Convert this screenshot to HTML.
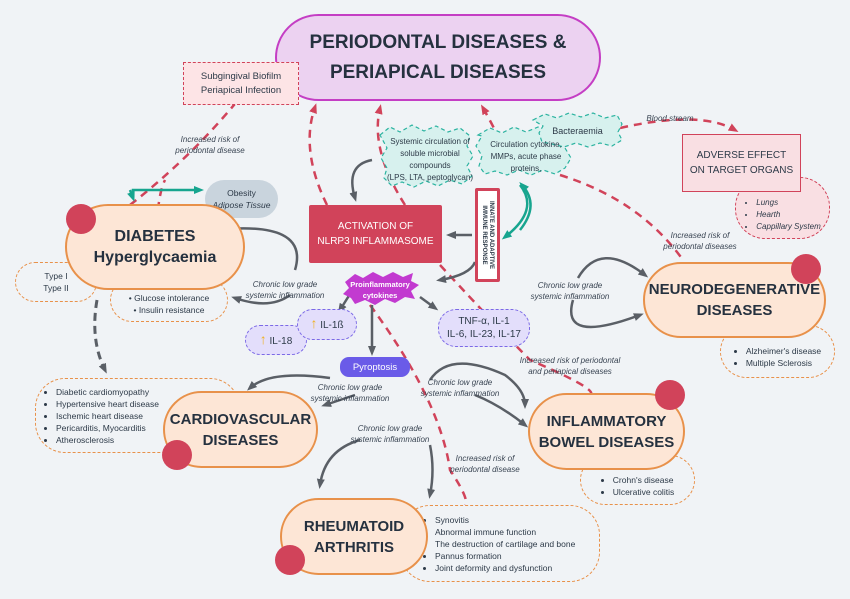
<!DOCTYPE html>
<html><head><meta charset="utf-8"><style>
body{margin:0;width:850px;height:599px;background:#f0f3f6;position:relative;overflow:hidden;font-family:"Liberation Sans",sans-serif;color:#2d3a48}
.a{position:absolute;box-sizing:border-box;display:flex;align-items:center;justify-content:center;text-align:center}
.pill{background:#fde6d6;border:2px solid #e8914a;border-radius:45px;font-weight:bold;font-size:15px;line-height:21px;color:#25313f;white-space:nowrap}
.dash{border:1.5px dashed #e8914a;border-radius:30px;font-size:8.5px;line-height:12px}
.dot{position:absolute;width:30px;height:30px;border-radius:50%;background:#d1435a}
.lav{background:#e3defb;border:1.5px dashed #7b69e6;border-radius:18px;font-size:10px;line-height:13px}
.t{position:absolute;font-size:8px;line-height:11px;font-style:italic;text-align:center;color:#3a4553}
ul{margin:0;padding-left:12px;text-align:left}
</style></head><body>
<svg width="850" height="599" style="position:absolute;left:0;top:0">
<defs>
<marker id="r" markerUnits="userSpaceOnUse" markerWidth="10" markerHeight="10" refX="6" refY="5" orient="auto"><path d="M0,1L10,5L0,9z" fill="#d1435a"/></marker>
<marker id="g" markerUnits="userSpaceOnUse" markerWidth="10" markerHeight="10" refX="6" refY="5" orient="auto"><path d="M0,1L10,5L0,9z" fill="#5a5f66"/></marker>
<marker id="c" markerUnits="userSpaceOnUse" markerWidth="10" markerHeight="10" refX="6" refY="5" orient="auto"><path d="M0,1L10,5L0,9z" fill="#17a58f"/></marker>
</defs>
<g fill="none" stroke="#d1435a" stroke-width="2.5" stroke-dasharray="8,6">
<path d="M130,205 Q200,150 250,85" marker-end="url(#r)"/>
<path d="M327,205 Q300,150 315,107" marker-end="url(#r)"/>
<path d="M405,205 Q370,150 380,108" marker-end="url(#r)"/>
<path d="M500,140 Q490,120 483,108" marker-end="url(#r)"/>
<path d="M560,175 Q640,200 683,260"/>
<path d="M440,265 Q500,330 530,360 Q600,390 590,395"/>
<path d="M370,305 Q440,400 450,470 Q470,500 465,505"/>
<path d="M158,210 Q160,190 165,180"/>
<path d="M620,128 Q700,110 735,130" marker-end="url(#r)"/>
</g>
<g fill="none" stroke="#5a5f66" stroke-width="2.5">
<path d="M372,160 Q345,165 355,198" marker-end="url(#g)"/>
<path d="M472,235 L450,235" marker-end="url(#g)"/>
<path d="M295,270 Q310,220 215,230" marker-end="url(#g)"/>
<path d="M290,295 Q270,310 235,298" marker-end="url(#g)"/>
<path d="M360,278 L340,310" marker-end="url(#g)"/>
<path d="M372,305 L372,352" marker-end="url(#g)"/>
<path d="M420,297 L435,308" marker-end="url(#g)"/>
<path d="M475,262 Q470,275 440,280" marker-end="url(#g)"/>
<path d="M330,378 Q270,370 250,388" marker-end="url(#g)"/>
<path d="M355,395 L325,405" marker-end="url(#g)"/>
<path d="M578,278 Q600,240 645,275" marker-end="url(#g)"/>
<path d="M573,300 Q560,345 640,315" marker-end="url(#g)"/>
<path d="M430,380 Q450,350 505,375 Q525,390 525,405" marker-end="url(#g)"/>
<path d="M475,395 Q500,405 525,425" marker-end="url(#g)"/>
<path d="M360,440 Q325,450 320,485" marker-end="url(#g)"/>
<path d="M430,445 Q435,470 430,495" marker-end="url(#g)"/>
</g>
<path d="M97,300 Q90,340 105,370" fill="none" stroke="#5a5f66" stroke-width="3" stroke-dasharray="8,5" marker-end="url(#g)"/>
<g fill="none" stroke="#17a58f" stroke-width="2.5">
<path d="M133,196 L133,190 L200,190" marker-end="url(#c)"/>
<path d="M130,190 L133,198" marker-end="url(#c)"/>
<path d="M520,185 Q540,210 505,237" marker-end="url(#c)"/>
<path d="M520,230 Q540,205 522,185" marker-end="url(#c)"/>
</g>
<g fill="#d7f1ee" stroke="#2bb3a0" stroke-width="1.2" stroke-dasharray="4,3">
<path d="M380,135 l10,-8 10,5 12,-7 12,6 12,-5 12,6 12,-4 10,8 -3,10 6,10 -6,10 5,10 -10,8 -12,-4 -12,6 -12,-5 -12,6 -12,-5 -10,4 -8,-8 3,-10 -6,-10 6,-10z"/>
<path d="M478,135 l12,-7 12,5 12,-6 12,5 12,-5 12,6 10,-3 8,8 -3,10 6,10 -6,10 -10,6 -12,-4 -12,5 -12,-5 -12,5 -12,-4 -10,3 -6,-8 3,-10 -6,-10 6,-10z"/>
<path d="M533,120 l12,-6 12,4 12,-5 12,4 12,-4 12,5 12,-3 5,9 -4,8 4,8 -10,6 -12,-3 -12,4 -12,-4 -12,4 -12,-3 -10,-2 -3,-9 4,-7z"/>
</g>
<path d="M345,282 l10,-8 8,4 10,-6 10,5 10,-5 10,5 10,-4 -2,8 8,4 -8,6 4,8 -10,-2 -10,6 -10,-4 -10,6 -10,-5 -10,4 -4,-6 -8,-4 6,-6z" fill="#c23ad0"/>
</svg>

<div class="a" style="left:275px;top:14px;width:326px;height:87px;background:#ecd2f1;border:2px solid #c43ec4;border-radius:44px;font-weight:bold;font-size:19px;line-height:30px;color:#25313f"><div>PERIODONTAL DISEASES &amp;<br>PERIAPICAL DISEASES</div></div>
<div class="a" style="left:183px;top:62px;width:116px;height:43px;background:#fde4e6;border:1.5px dashed #d1435a;font-size:9.5px;line-height:14px"><div>Subgingival Biofilm<br>Periapical Infection</div></div>
<div class="t" style="left:150px;top:134px;width:120px">Increased risk of<br>periodontal disease</div>
<div class="a" style="left:205px;top:180px;width:73px;height:38px;background:#c9d4dd;border-radius:20px;font-size:8.5px;line-height:12px"><div>Obesity<br><i>Adipose Tissue</i></div></div>
<div class="a dash" style="left:15px;top:262px;width:82px;height:40px"><div>Type I<br>Type II</div></div>
<div class="a dash" style="left:110px;top:278px;width:118px;height:44px;padding-top:8px"><div>• Glucose intolerance<br>• Insulin resistance</div></div>
<div class="a pill" style="left:65px;top:204px;width:180px;height:86px;font-size:16px"><div>DIABETES<br>Hyperglycaemia</div></div>
<div class="dot" style="left:66px;top:204px"></div>
<div class="a" style="left:309px;top:205px;width:133px;height:58px;background:#d1435a;color:#fff;font-size:10px;line-height:15px;border-radius:2px"><div>ACTIVATION OF<br>NLRP3 INFLAMMASOME</div></div>
<div class="a" style="left:475px;top:188px;width:25px;height:94px;background:#fff;border:3px solid #d1435a;border-radius:2px"><div style="transform:rotate(90deg);white-space:nowrap;font-size:6px;line-height:7px;font-weight:bold">INNATE AND ADAPTIVE<br>IMMUNE RESPONSE</div></div>
<div class="a" style="left:380px;top:132px;width:100px;height:55px;font-size:8px;line-height:12px"><div>Systemic circulation of<br>soluble microbial<br>compounds<br>(LPS, LTA, peptoglycan)</div></div>
<div class="a" style="left:477px;top:136px;width:98px;height:42px;font-size:8px;line-height:12px"><div>Circulation cytokine,<br>MMPs, acute phase<br>proteins,</div></div>
<div class="a" style="left:535px;top:121px;width:85px;height:20px;font-size:9px"><div>Bacteraemia</div></div>
<div class="t" style="left:640px;top:113px;width:60px">Blood stream</div>
<div class="a" style="left:735px;top:177px;width:95px;height:62px;background:#f9dfe3;border:1.5px dashed #d1435a;border-radius:30px;font-size:8px;line-height:12px;font-style:italic;padding-top:14px"><ul><li>Lungs</li><li>Hearth</li><li>Cappillary System</li></ul></div>
<div class="a" style="left:682px;top:134px;width:119px;height:58px;background:#f9dfe3;border:1.5px solid #d1435a;font-size:10px;line-height:15px"><div>ADVERSE EFFECT<br>ON TARGET ORGANS</div></div>
<div class="t" style="left:655px;top:230px;width:90px">Increased risk of<br>periodontal diseases</div>
<div class="t" style="left:520px;top:280px;width:100px">Chronic low grade<br>systemic inflammation</div>
<div class="a dash" style="left:720px;top:325px;width:115px;height:53px;padding-top:10px"><ul><li>Alzheimer's disease</li><li>Multiple Sclerosis</li></ul></div>
<div class="a pill" style="left:643px;top:262px;width:183px;height:76px"><div>NEURODEGENERATIVE<br>DISEASES</div></div>
<div class="dot" style="left:791px;top:254px"></div>
<div class="a" style="left:345px;top:278px;width:70px;height:24px;color:#fff;font-size:7.5px;line-height:11px;font-weight:bold"><div>Proinflammatory<br>cytokines</div></div>
<div class="t" style="left:240px;top:279px;width:90px">Chronic low grade<br>systemic inflammation</div>
<div class="a lav" style="left:438px;top:309px;width:92px;height:38px"><div>TNF-α, IL-1<br>IL-6, IL-23, IL-17</div></div>
<div class="a lav" style="left:245px;top:325px;width:62px;height:30px"><div><span style="color:#f0b020;font-size:14px">↑</span> IL-18</div></div>
<div class="a lav" style="left:297px;top:309px;width:60px;height:31px"><div><span style="color:#f0b020;font-size:14px">↑</span> IL-1ß</div></div>
<div class="a" style="left:340px;top:357px;width:70px;height:20px;background:#6a5be8;color:#fff;border-radius:9px;font-size:9.5px"><div>Pyroptosis</div></div>
<div class="t" style="left:300px;top:382px;width:100px">Chronic low grade<br>systemic inflammation</div>
<div class="t" style="left:410px;top:377px;width:100px">Chronic low grade<br>systemic inflammation</div>
<div class="t" style="left:505px;top:355px;width:130px">Increased risk of periodontal<br>and periapical diseases</div>
<div class="a dash" style="left:35px;top:378px;width:205px;height:75px;justify-content:flex-start;padding-left:8px"><ul><li>Diabetic cardiomyopathy</li><li>Hypertensive heart disease</li><li>Ischemic heart disease</li><li>Pericarditis, Myocarditis</li><li>Atherosclerosis</li></ul></div>
<div class="a pill" style="left:163px;top:391px;width:155px;height:77px"><div>CARDIOVASCULAR<br>DISEASES</div></div>
<div class="dot" style="left:162px;top:440px"></div>
<div class="a dash" style="left:580px;top:455px;width:115px;height:50px;padding-top:12px"><ul><li>Crohn's disease</li><li>Ulcerative colitis</li></ul></div>
<div class="a pill" style="left:528px;top:393px;width:157px;height:77px"><div>INFLAMMATORY<br>BOWEL DISEASES</div></div>
<div class="dot" style="left:655px;top:380px"></div>
<div class="t" style="left:340px;top:423px;width:100px">Chronic low grade<br>systemic inflammation</div>
<div class="t" style="left:440px;top:453px;width:90px">Increased risk of<br>periodontal disease</div>
<div class="a dash" style="left:400px;top:505px;width:200px;height:77px;justify-content:flex-start;padding-left:22px"><ul><li>Synovitis</li><li>Abnormal immune function</li><li>The destruction of cartilage and bone</li><li>Pannus formation</li><li>Joint deformity and dysfunction</li></ul></div>
<div class="a pill" style="left:280px;top:498px;width:148px;height:77px"><div>RHEUMATOID<br>ARTHRITIS</div></div>
<div class="dot" style="left:275px;top:545px"></div>
</body></html>
